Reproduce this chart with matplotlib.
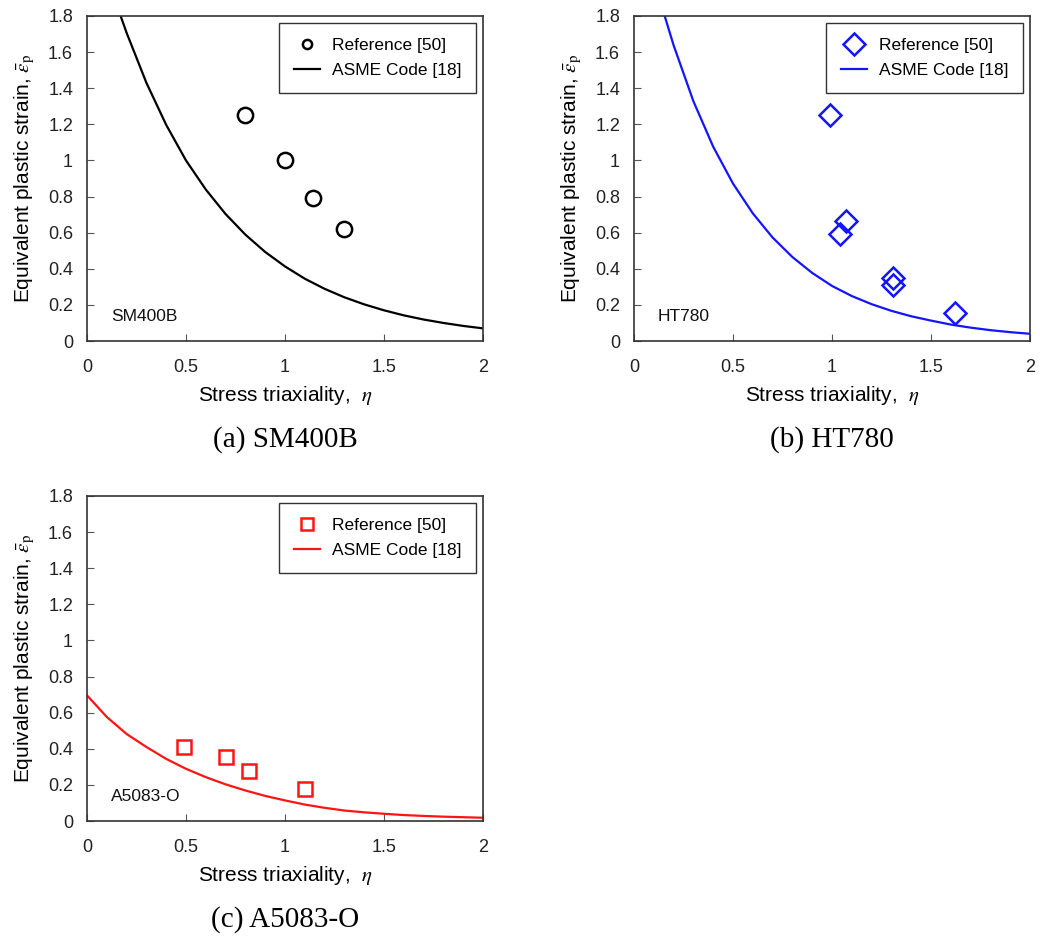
import numpy as np
import matplotlib
matplotlib.use("Agg")
import matplotlib.pyplot as plt
from matplotlib.ticker import FuncFormatter, MultipleLocator


# ======================
# 0) Data (read from the figure)
# ======================

# (a) SM400B
sm_ref_eta = [0.80, 1.00, 1.14, 1.30]
sm_ref_eps = [1.25, 1.00, 0.79, 0.62]
sm_asme_eta = [0.17, 0.2, 0.3, 0.4, 0.5, 0.6, 0.7, 0.8, 0.9, 1.0,
               1.1, 1.2, 1.3, 1.4, 1.5, 1.6, 1.7, 1.8, 1.9, 2.0]
sm_asme_eps = [1.80, 1.707, 1.43, 1.197, 1.00, 0.839, 0.703, 0.589, 0.493, 0.413,
               0.345, 0.289, 0.242, 0.203, 0.170, 0.142, 0.119, 0.100, 0.0835, 0.070]

# (b) HT780
ht_ref_eta = [0.99, 1.07, 1.04, 1.31, 1.31, 1.62]
ht_ref_eps = [1.25, 0.665, 0.59, 0.35, 0.31, 0.155]
ht_asme_eta = [0.155, 0.2, 0.3, 0.4, 0.5, 0.6, 0.7, 0.8, 0.9, 1.0,
               1.1, 1.2, 1.3, 1.4, 1.5, 1.6, 1.7, 1.8, 1.9, 2.0]
ht_asme_eps = [1.80, 1.638, 1.328, 1.076, 0.872, 0.707, 0.573, 0.465, 0.377, 0.305,
               0.249, 0.204, 0.167, 0.137, 0.113, 0.091, 0.074, 0.060, 0.049, 0.040]

# (c) A5083-O
al_ref_eta = [0.49, 0.70, 0.82, 1.10]
al_ref_eps = [0.41, 0.352, 0.276, 0.179]
al_asme_eta = [0.0, 0.1, 0.2, 0.3, 0.4, 0.5, 0.6, 0.7, 0.8, 0.9, 1.0,
               1.1, 1.2, 1.3, 1.4, 1.5, 1.6, 1.7, 1.8, 1.9, 2.0]
al_asme_eps = [0.696, 0.576, 0.482, 0.41, 0.344, 0.289, 0.243, 0.203, 0.169, 0.139, 0.114,
               0.091, 0.073, 0.058, 0.048, 0.040, 0.033, 0.028, 0.024, 0.021, 0.018]

panels = [
    # name, caption, colour, marker, data
    ("SM400B", "(a) SM400B", "black", "o", sm_ref_eta, sm_ref_eps, sm_asme_eta, sm_asme_eps),
    ("HT780", "(b) HT780", "#1414ff", "D", ht_ref_eta, ht_ref_eps, ht_asme_eta, ht_asme_eps),
    ("A5083-O", "(c) A5083-O", "#ff1414", "s", al_ref_eta, al_ref_eps, al_asme_eta, al_asme_eps),
]


# ======================
# 1) Style
# ======================

plt.rcParams["font.family"] = ["Liberation Sans", "DejaVu Sans"]
plt.rcParams["mathtext.fontset"] = "stix"

W, H = 1040, 936
fig = plt.figure(figsize=(W / 100, H / 100), dpi=100)

# axes boxes in pixels: left, top, right, bottom
boxes = [(87, 16, 483, 341), (634, 16, 1030, 341), (87, 496, 483, 821)]

marker_sizes = [11, 11, 10]
legend_scale = [0.6, 1.0, 0.9]

fmt = FuncFormatter(lambda v, p: "{:g}".format(round(v, 2)))


# ======================
# 2) Draw panels
# ======================

for i, (name, caption, color, mk, reta, reps, aeta, aeps) in enumerate(panels):
    l, t, r, b = boxes[i]
    ax = fig.add_axes([l / W, 1 - b / H, (r - l) / W, (b - t) / H])

    ax.plot(reta, reps, linestyle="none", marker=mk, markersize=marker_sizes[i],
            markerfacecolor="none", markeredgecolor=color, markeredgewidth=1.8,
            label="Reference [50]")
    ax.plot(aeta, aeps, color=color, linewidth=1.6, label="ASME Code [18]")

    ax.set_xlim(0, 2)
    ax.set_ylim(0, 1.8)
    ax.xaxis.set_major_locator(MultipleLocator(0.5))
    ax.yaxis.set_major_locator(MultipleLocator(0.2))
    ax.xaxis.set_major_formatter(fmt)
    ax.yaxis.set_major_formatter(fmt)
    ax.tick_params(direction="in", length=5, width=0.8, color="#555555",
                   labelsize=13, labelcolor="#222222")
    ax.tick_params(axis="x", pad=13)
    ax.tick_params(axis="y", pad=10)
    for s in ax.spines.values():
        s.set_color("#333333")
        s.set_linewidth(1.2)

    ax.set_xlabel(r"Stress triaxiality,  $\eta$", fontsize=15, labelpad=6)
    ax.set_ylabel(r"Equivalent plastic strain, $\bar{\varepsilon}_\mathrm{p}$",
                  fontsize=15, labelpad=8)

    ax.text(0.06, 0.075, name, transform=ax.transAxes, fontsize=12.5,
            ha="left", va="center", color="#111111")

    leg = ax.legend(loc="upper right", fontsize=12.5, frameon=True, fancybox=False,
                    edgecolor="#333333", framealpha=1, borderaxespad=0.4,
                    markerscale=legend_scale[i], handlelength=1.5,
                    handletextpad=0.7, borderpad=0.85, labelspacing=0.6)
    leg.get_frame().set_linewidth(1.0)

    # caption under each panel
    fig.text((l + r) / 2 / W, 1 - (b + 99) / H, caption, ha="center", va="center",
             fontsize=21, family=["Liberation Serif", "DejaVu Serif"])

fig.savefig("out.png", dpi=100)
